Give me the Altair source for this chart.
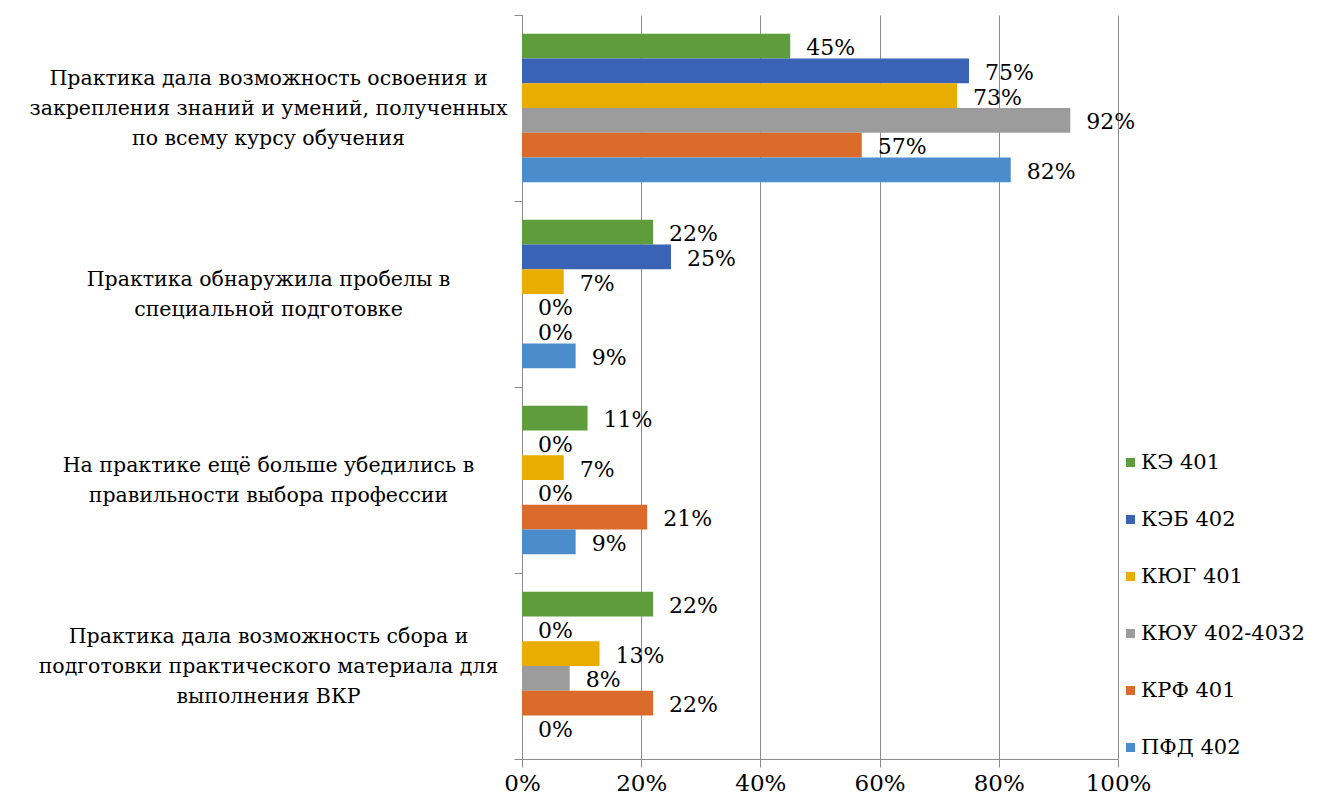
import altair as alt
import pandas as pd

categories = [
    "Практика дала возможность освоения и|закрепления знаний и умений, полученных|по всему курсу обучения",
    "Практика обнаружила пробелы в|специальной подготовке",
    "На практике ещё больше убедились в|правильности выбора профессии",
    "Практика дала возможность сбора и|подготовки практического материала для|выполнения ВКР",
]
series = ["КЭ 401", "КЭБ 402", "КЮГ 401", "КЮУ 402-4032", "КРФ 401", "ПФД 402"]
colors = ["#5f9c3c", "#3b63b5", "#e8ad00", "#9c9c9c", "#db6b2b", "#4b8dcc"]

ke401 = [45, 22, 11, 22]
keb402 = [75, 25, 0, 0]
kyug401 = [73, 7, 7, 13]
kyuu402 = [92, 0, 0, 8]
krf401 = [57, 0, 21, 22]
pfd402 = [82, 9, 9, 0]
series_values = [ke401, keb402, kyug401, kyuu402, krf401, pfd402]

rows = []
for s, vals in zip(series, series_values):
    for c, v in zip(categories, vals):
        rows.append({"category": c, "series": s, "value": v, "label": f"{v}%"})
df = pd.DataFrame(rows)

SERIF = "DejaVu Serif"
LINE_H = 30

y_enc = alt.Y(
    "category:N",
    sort=categories,
    scale=alt.Scale(paddingInner=0, paddingOuter=0),
    axis=alt.Axis(
        title=None,
        labelExpr="split(datum.label, '|')",
        labelAlign="center",
        labelBaseline="middle",
        labelOffset={
            "condition": {"test": "length(split(datum.value, '|')) > 2", "value": -LINE_H},
            "value": -LINE_H / 2,
        },
        labelPadding=246,
        labelFont=SERIF,
        labelFontSize=20.5,
        labelLineHeight=LINE_H,
        labelColor="#000000",
        labelLimit=0,
        tickBand="extent",
        tickSize=8,
        tickColor="#8c8c8c",
        domainColor="#8c8c8c",
        grid=False,
    ),
)
x_enc = alt.X(
    "value:Q",
    scale=alt.Scale(domain=[0, 100]),
    axis=alt.Axis(
        title=None,
        values=[0, 20, 40, 60, 80, 100],
        labelExpr="datum.value + '%'",
        labelFlush=False,
        labelFont=SERIF,
        labelFontSize=23,
        labelColor="#000000",
        labelPadding=5,
        tickSize=8,
        tickColor="#8c8c8c",
        domainColor="#8c8c8c",
        grid=True,
        gridColor="#8c8c8c",
        gridWidth=1,
    ),
)
yoff = alt.YOffset("series:N", sort=series, scale=alt.Scale(paddingInner=0, paddingOuter=0.76))

bars = alt.Chart(df).mark_bar().encode(
    x=x_enc,
    y=y_enc,
    yOffset=yoff,
    color=alt.Color(
        "series:N",
        sort=series,
        scale=alt.Scale(domain=series, range=colors),
        legend=alt.Legend(
            title=None,
            orient="none",
            legendX=598,
            legendY=437,
            symbolType="square",
            symbolSize=81,
            symbolStrokeWidth=0,
            labelFont=SERIF,
            labelFontSize=21,
            labelColor="#000000",
            labelOffset=0,
            labelLimit=0,
            rowPadding=35,
            padding=0,
        ),
    ),
)

texts = alt.Chart(df).mark_text(
    align="left", baseline="middle", dx=16, dy=2, font=SERIF, fontSize=22, color="#000000"
).encode(
    x=alt.X("value:Q"),
    y=alt.Y("category:N", sort=categories),
    yOffset=alt.YOffset("series:N", sort=series),
    text="label:N",
)

chart = (
    alt.layer(bars, texts)
    .properties(
        width=596,
        height=744,
        autosize=alt.AutoSizeParams(type="none"),
        padding={"left": 514, "top": 7, "right": 193, "bottom": 40},
    )
    .configure_view(strokeWidth=0)
)

chart.save("out.html", embed_options={"renderer": "svg", "actions": False})
